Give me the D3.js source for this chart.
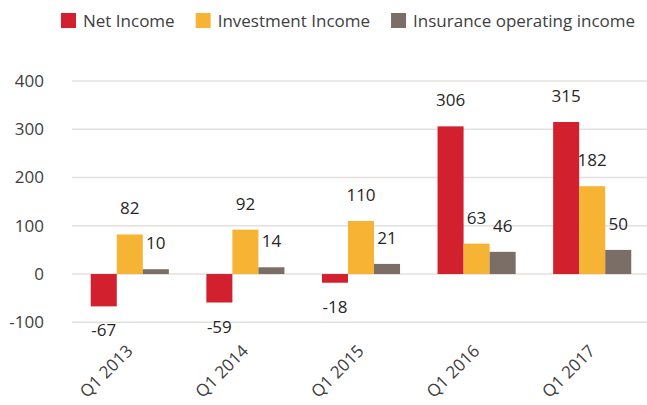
<!DOCTYPE html>
<html>
<head>
<meta charset="utf-8">
<script src="https://cdn.jsdelivr.net/npm/d3@7"></script>
<style>
  body { margin: 0; background: #fff; }
  svg { display: block; font-family: "Open Sans", sans-serif; }
  .tick-label { fill: #404040; font-size: 17px; }
  .legend text { fill: #404040; font-size: 17px; }
  .value { fill: #262626; font-size: 17px; text-anchor: middle; }
  .grid line { stroke: #e4e0de; stroke-width: 1.5; }
</style>
</head>
<body>
<script>
// chart data
var quarters = ["Q1 2013", "Q1 2014", "Q1 2015", "Q1 2016", "Q1 2017"];
var seriesNames = ["Net Income", "Investment Income", "Insurance operating income"];
var netIncome = [-67, -59, -18, 306, 315];
var investmentIncome = [82, 92, 110, 63, 182];
var insuranceIncome = [10, 14, 21, 46, 50];
var yTicks = [-100, 0, 100, 200, 300, 400];
var colors = ["#d2202f", "#f6b334", "#7b6e66"];

var width = 647, height = 405;
var seriesValues = [netIncome, investmentIncome, insuranceIncome];

var svg = d3.select("body").append("svg")
    .attr("width", width)
    .attr("height", height);

// scales
var x = d3.scaleBand()
    .domain(quarters)
    .range([72, 650])
    .paddingInner(0)
    .paddingOuter(0);

var xInner = d3.scaleBand()
    .domain(seriesNames)
    .range([0, x.bandwidth()])
    .paddingOuter(0.72)
    .paddingInner(0);

var y = d3.scaleLinear()
    .domain([-100, 400])
    .range([322.3, 81]);

// gridlines
svg.append("g")
    .attr("class", "grid")
    .selectAll("line")
    .data(yTicks)
    .enter()
    .append("line")
    .attr("x1", 72)
    .attr("x2", 650)
    .attr("y1", function(d){ return y(d); })
    .attr("y2", function(d){ return y(d); });

// y axis labels
svg.append("g")
    .selectAll("text")
    .data(yTicks)
    .enter()
    .append("text")
    .attr("class", "tick-label")
    .attr("x", 44)
    .attr("y", function(d){ return y(d); })
    .attr("dy", "0.35em")
    .attr("text-anchor", "end")
    .text(function(d){ return d; });

// flatten to one record per bar
var barData = [];
quarters.forEach(function(q, i){
    seriesNames.forEach(function(s, j){
        barData.push({quarter: q, series: s, value: seriesValues[j][i], color: colors[j]});
    });
});

var groups = svg.append("g");

groups.selectAll("rect")
    .data(barData)
    .enter()
    .append("rect")
    .attr("x", function(d){ return x(d.quarter) + xInner(d.series); })
    .attr("width", xInner.bandwidth())
    .attr("y", function(d){ return y(Math.max(0, d.value)); })
    .attr("height", function(d){ return Math.abs(y(d.value) - y(0)); })
    .style("fill", function(d){ return d.color; });

// value labels
groups.selectAll("text")
    .data(barData)
    .enter()
    .append("text")
    .attr("class", "value")
    .attr("x", function(d){ return x(d.quarter) + xInner(d.series) + xInner.bandwidth() / 2; })
    .attr("y", function(d){
        return d.value >= 0 ? y(d.value) - 20 : y(d.value) + 30;
    })
    .text(function(d){ return d.value; });

// category labels, rotated
svg.append("g")
    .selectAll("text")
    .data(quarters)
    .enter()
    .append("text")
    .attr("class", "tick-label")
    .attr("text-anchor", "end")
    .attr("transform", function(d){
        return "translate(" + (x(d) + x.bandwidth() / 2 + 4) + ",352) rotate(-45)";
    })
    .text(function(d){ return d; });

// legend
var legend = svg.append("g").attr("class", "legend");
var lx = 61;
seriesNames.forEach(function(name, i){
    legend.append("rect")
        .attr("x", lx)
        .attr("y", 13)
        .attr("width", 15)
        .attr("height", 15)
        .style("fill", colors[i]);
    var t = legend.append("text")
        .attr("x", lx + 22)
        .attr("y", 27)
        .text(name);
    lx += 22 + t.node().getComputedTextLength() + 21;
});
</script>
</body>
</html>
